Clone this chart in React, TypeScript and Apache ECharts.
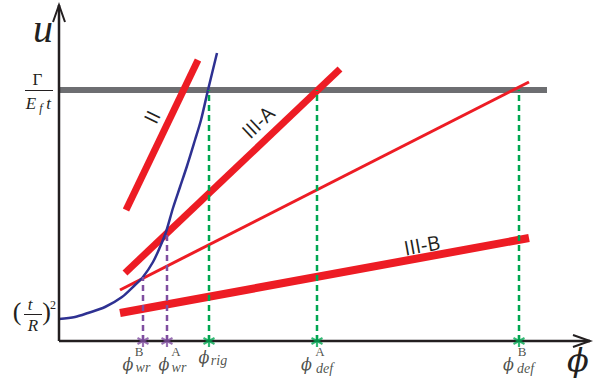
import React, { useEffect, useRef } from 'react';
import * as echarts from 'echarts';

// ---- Data (plot units: ϕ along x, u along y) ----
const energyLevelU = 251; // Γ / (E_f t)
const energyLevelSpan = [0, 488];
const lineII = [[67, 131], [139, 281]];
const lineIIIA = [[66, 68], [281, 272]];
const lineThin = [[61, 51], [470, 259]];
const lineIIIB = [[61, 28], [470, 103]];
const curvePhi = [0, 16, 29, 46, 63, 76, 84, 94, 101, 107, 114, 121, 128, 136, 142, 149, 158];
const curveU = [22, 24, 28, 34, 44, 56, 64, 79, 94, 109, 133, 154, 175, 201, 221, 251, 288];
const critPhi = [84, 108, 150, 258, 460];
const critU = [64, 108, 251, 251, 251];
const critSub = ['wr', 'wr', 'rig', 'def', 'def'];
const critSup = ['B', 'A', '', 'A', 'B'];
const critKind = ['wrinkle', 'wrinkle', 'rigid', 'deform', 'deform'];
const axisPhiEnd = 531;
const axisUEnd = 336;

// ---- Layout / style ----
const X_MIN = -59, X_MAX = 544, Y_MIN = -40, Y_MAX = 341;
const C = {
  axis: '#231f20', gray: '#6d6e71', red: '#ed1c24', blue: '#2e3192',
  green: '#00a651', purple: '#7f4ea0', text: '#231f20',
};
const kindColor: Record<string, string> = { wrinkle: C.purple, rigid: C.green, deform: C.green };
const phiOff = [[-15, 23], [-3, 23], [-5, 16], [-10.5, 23], [-10.5, 23]];
const subOff = [[0, 26.5], [12, 26.5], [10, 19], [7.5, 27], [6.5, 27]];
const supOff = [[-4, 10], [9, 10], [0, 0], [3, 10], [3, 10]];
const SERIF = '"Liberation Serif", "DejaVu Serif", serif';
const PHI_FONT = '"DejaVu Serif", serif';
const SANS = '"Open Sans", "Noto Sans", sans-serif';

const seg = (pts: number[][], width: number, color: string, z: number, extra: any = {}) => ({
  type: 'line', data: pts, symbol: 'none', showSymbol: false, clip: false, silent: true, z,
  lineStyle: { width, color, cap: 'butt', join: 'miter', ...(extra.lineStyle || {}) },
});

const labelSeries = (texts: string[], offs: number[][], font: any, z: number) => ({
  type: 'scatter', symbol: 'circle', symbolSize: 1, silent: true, z, clip: false,
  itemStyle: { color: 'rgba(0,0,0,0)' },
  data: critPhi.map((x, i) => ({
    value: [x, 0],
    label: {
      show: texts[i] !== '', formatter: texts[i], position: 'inside', offset: offs[i],
      align: 'center', verticalAlign: 'middle', color: C.text, ...font,
    },
  })),
});

const angle = (l: number[][]) => Math.atan2(l[1][1] - l[0][1], l[1][0] - l[0][0]);

const txt = (text: string, x: number, y: number, size: number, family: string, italic: boolean, rotation = 0) => ({
  type: 'text', x, y, rotation, z: 20, silent: true,
  style: {
    text, fill: C.text, fontSize: size, fontFamily: family, fontStyle: italic ? 'italic' : 'normal',
    align: 'center', verticalAlign: 'middle', textAlign: 'center', textVerticalAlign: 'middle',
  },
});

function buildOption() {
  const series: any[] = [];
  series.push(seg([[energyLevelSpan[0], energyLevelU], [energyLevelSpan[1], energyLevelU]], 6, C.gray, 1));
  series.push(seg(lineII, 7, C.red, 2));
  series.push(seg(lineIIIA, 7, C.red, 2));
  series.push(seg(lineThin, 3, C.red, 2));
  series.push(seg(lineIIIB, 8, C.red, 2));
  series.push({
    type: 'line', data: curvePhi.map((x, i) => [x, curveU[i]]), symbol: 'none', smooth: 0.3,
    clip: false, silent: true, z: 3, lineStyle: { width: 2.5, color: C.blue },
  });
  critPhi.forEach((x, i) => {
    series.push(seg([[x, 0], [x, critU[i]]], 2.5, kindColor[critKind[i]], 4, { lineStyle: { type: [6, 4] } }));
  });
  // axes
  series.push(seg([[0, 0], [axisPhiEnd, 0]], 2.5, C.axis, 5));
  series.push(seg([[0, 0], [0, axisUEnd]], 2.5, C.axis, 5));
  series.push(seg([[axisPhiEnd - 17, 6], [axisPhiEnd, 0], [axisPhiEnd - 17, -6]], 2, C.axis, 5));
  series.push(seg([[-6, axisUEnd - 17], [0, axisUEnd], [6, axisUEnd - 17]], 2, C.axis, 5));
  // asterisk markers
  series.push({
    type: 'scatter', silent: true, z: 6, clip: false,
    symbol: 'path://M5,0L5,10M0.67,2.5L9.33,7.5M0.67,7.5L9.33,2.5', symbolSize: [11, 12],
    data: critPhi.map((x, i) => ({
      value: [x, 0],
      itemStyle: { color: 'none', borderColor: kindColor[critKind[i]], borderWidth: 2.3 },
    })),
  });
  series.push(labelSeries(critPhi.map(() => 'ϕ'), phiOff, { fontFamily: PHI_FONT, fontStyle: 'italic', fontSize: 16 }, 7));
  series.push(labelSeries(critSub, subOff, { fontFamily: SERIF, fontStyle: 'italic', fontSize: 14 }, 7));
  series.push(labelSeries(critSup, supOff, { fontFamily: SERIF, fontSize: 13 }, 7));

  const graphic: any[] = [
    txt('u', 43, 28, 40, SERIF, true),
    txt('ϕ', 578, 360, 32, PHI_FONT, true),
    txt('Γ', 37.5, 79, 17, SERIF, false),
    { type: 'line', z: 20, silent: true, shape: { x1: 25, y1: 90.5, x2: 53, y2: 90.5 }, style: { stroke: C.text, lineWidth: 1 } },
    txt('E', 31, 103, 17, SERIF, true),
    txt('f', 41, 108, 12, SERIF, true),
    txt('t', 48.5, 103, 17, SERIF, true),
    txt('(', 17, 311, 26, SERIF, false),
    txt('t', 30, 304, 17, SERIF, true),
    { type: 'line', z: 20, silent: true, shape: { x1: 24, y1: 314.5, x2: 42, y2: 314.5 }, style: { stroke: C.text, lineWidth: 1 } },
    txt('R', 33, 325, 17, SERIF, true),
    txt(')', 46.5, 311, 26, SERIF, false),
    txt('2', 53, 305, 12, SERIF, false),
    txt('II', 152, 117, 20, SANS, false, angle(lineII)),
    txt('III-A', 258, 122, 20, SANS, false, angle(lineIIIA)),
    txt('III-B', 422, 245, 20, SANS, false, angle(lineIIIB)),
  ];

  return {
    animation: false,
    backgroundColor: '#ffffff',
    grid: { left: 0, right: 0, top: 0, bottom: 0, containLabel: false },
    xAxis: { type: 'value', min: X_MIN, max: X_MAX, show: false },
    yAxis: { type: 'value', min: Y_MIN, max: Y_MAX, show: false },
    series,
    graphic,
  };
}

export default function App() {
  const ref = useRef<HTMLDivElement>(null);
  useEffect(() => {
    const chart = echarts.init(ref.current!, null, { renderer: 'svg' });
    chart.setOption(buildOption());
    return () => chart.dispose();
  }, []);
  return (
    <div
      ref={ref}
      style={{ position: 'fixed', left: 0, top: 0, width: 603, height: 381, background: '#fff' }}
    />
  );
}
